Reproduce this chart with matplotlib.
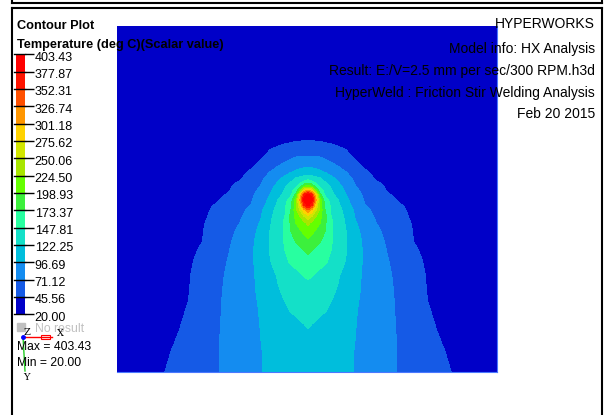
import numpy as np
import matplotlib
matplotlib.use('Agg')
import matplotlib.pyplot as plt
import matplotlib.transforms as mtransforms
from matplotlib.lines import Line2D
from matplotlib.patches import Rectangle

# contour levels (deg C) and HyperView legend colours, low -> high
levels = [20.00, 45.56, 71.12, 96.69, 122.25, 147.81, 173.37, 198.93,
          224.50, 250.06, 275.62, 301.18, 326.74, 352.31, 377.87, 403.43]
band_colors = ['#0000c8', '#155ae6', '#148cf0', '#00bedc', '#14e0c8',
               '#28ffa0', '#3cf03c', '#64ff00', '#a8e600', '#d2e600',
               '#ffd200', '#ff9600', '#ff5000', '#ff1400', '#ff0000']

# half model, symmetric about the weld line
# dist = distance from weld line, rows = position down the plate (picture px)
dist = [0, 4, 8, 12, 17, 23, 30, 38, 47, 57, 68, 80, 93, 106, 120, 134, 148, 191]
rows = [26, 120, 138, 148, 157, 165, 172, 178, 183, 187, 191, 195, 200, 205,
        210, 216, 223, 231, 240, 250, 262, 276, 292, 310, 330, 350, 372]
temp_half = [
    [24, 24, 24, 24, 24, 24, 23, 23, 23, 22, 22, 22, 21, 21, 21, 20, 20, 20],
    [30, 30, 30, 30, 30, 29.5, 29, 28, 27, 26, 25, 24, 23, 22.5, 22, 21.5, 21, 20],
    [42, 42, 42, 42, 41, 41, 40, 38, 36, 34, 32, 30, 28, 26, 24, 23, 22, 20],
    [55.8, 54.6, 53.4, 52.2, 50.7, 48.9, 46.8, 44.5, 41.9, 39, 36, 34, 31, 29, 27, 25, 24, 21],
    [72, 72, 71.5, 71, 67, 62, 56.6, 50, 43.5, 40, 37, 35, 32, 30, 28, 26, 24, 21],
    [89.7, 89, 87.5, 85, 81, 76, 69, 60, 50, 42, 38, 35, 33, 30, 28, 26, 24, 21],
    [109.5, 107, 104, 100.5, 95.5, 88.5, 80.4, 71.5, 60, 48, 41, 37, 34, 31, 29, 27, 25, 22],
    [132.5, 130, 127, 122.5, 113, 102, 91, 79, 66, 54.8, 43, 39, 35, 32, 30, 28, 26, 22],
    [173, 159, 145.5, 136.2, 124.6, 112.4, 98.7, 84.8, 70, 59.4, 47.7, 42, 37, 34, 31, 29, 27, 23],
    [224, 204, 167, 145.5, 133.9, 120.1, 105.2, 89.4, 72.9, 62.3, 51.5, 43, 38, 35, 32, 30, 28, 23],
    [326, 288.4, 211.7, 160.6, 140.1, 124.8, 109.5, 93, 76.6, 64.7, 54.7, 44, 39, 35, 33, 31, 29, 24],
    [390, 365.1, 276, 186.1, 145.3, 129.9, 113.7, 97, 80.2, 66.9, 57.5, 47.3, 41, 37, 34, 32, 30, 25],
    [403.43, 383, 301.5, 211.7, 160.6, 138.5, 122.5, 101.8, 83.9, 68.9, 60.6, 51.6, 42, 38, 35, 33, 31, 26],
    [390, 352.5, 276, 216, 168.3, 143.2, 126.9, 106.9, 88.2, 71.5, 63.5, 55.2, 46.3, 41, 37, 34, 32, 26],
    [326, 292.7, 250.5, 216, 173.5, 145.7, 130.8, 113, 93.3, 76.2, 65.4, 56.9, 47.7, 42, 38, 35, 33, 27],
    [269, 250.5, 224.8, 207.5, 179.8, 148, 134, 117.1, 95.3, 81.1, 68, 58.7, 48.7, 43, 39, 36, 34, 28],
    [229.6, 219.4, 209.2, 199.2, 177.6, 152.1, 136, 119.9, 99, 85.2, 71.5, 61.2, 50.5, 44, 40, 37, 35, 29],
    [211.7, 204.4, 196.4, 186.2, 173.6, 151.5, 136.9, 122.5, 103.1, 88.6, 75.8, 64.3, 53.2, 44.5, 40, 37, 35, 29],
    [195.5, 189.2, 182.9, 176.5, 165.7, 150.4, 137.6, 123.9, 106.5, 91.1, 78.9, 66.9, 55.8, 45, 41, 38, 36, 30],
    [178.5, 174.4, 169.1, 163.4, 156.3, 148, 136.6, 123.8, 107.6, 92.6, 81.3, 69.4, 58.3, 47.3, 42, 39, 37, 31],
    [164.2, 160.9, 157.6, 154.4, 150.3, 143.3, 132.8, 120.7, 106.3, 93, 83, 72, 60.9, 49.8, 43, 40, 38, 32],
    [149.9, 148.2, 145, 141.2, 136.4, 130.7, 124.1, 114.6, 103.1, 92.7, 83.9, 74.3, 63.5, 52.4, 44, 41, 38, 33],
    [140.3, 137.7, 135.1, 132.6, 129.3, 125.5, 120, 111.1, 101.1, 92.3, 84.3, 75.5, 65.5, 55.1, 44.5, 41, 39, 33],
    [130.8, 129.1, 127.4, 125.7, 123.5, 119.6, 113.4, 106.4, 98.5, 91.3, 83.9, 75.8, 66.6, 56.8, 46.3, 42, 39, 34],
    [121.4, 119.3, 117.3, 115.2, 112.6, 109.5, 105.9, 101.8, 97.2, 90.9, 83.9, 76.2, 67.8, 59, 49.6, 43, 40, 34],
    [117, 115.3, 113.5, 111.8, 109.7, 107.1, 104, 100.6, 96.2, 90.5, 83.6, 76.1, 68.5, 61.5, 54.1, 46.6, 41, 35],
    [112, 110.7, 109.3, 108, 106.3, 104.3, 102, 99.3, 96.1, 90, 83.3, 76, 68.7, 62.3, 55.4, 48.5, 44, 36],
]
weld_line = 308

header_lines = ['HYPERWORKS', 'Model info: HX Analysis',
                'Result: E:/V=2.5 mm per sec/300 RPM.h3d',
                'HyperWeld : Friction Stir Welding Analysis', 'Feb 20 2015']
label_lines = ['Contour Plot', 'Temperature (deg C)(Scalar value)']
max_val, min_val = 403.43, 20.00

arial = ['Liberation Sans', 'DejaVu Sans']

W, H = 604, 415
fig = plt.figure(figsize=(W / 100, H / 100), dpi=100)


def fx(x):
    return x / W


def fy(y):
    return 1 - y / H


# contour plot
ax = fig.add_axes([fx(117), fy(372), (497 - 117) / W, (372 - 26) / H])
d = np.array(dist)
half = np.array(temp_half)
xs = np.concatenate([weld_line - d[::-1], weld_line + d[1:]])
Z = np.hstack([half[:, ::-1], half[:, 1:]])
cs = ax.contourf(xs, rows, Z, levels=levels, colors=band_colors, antialiased=False)
ax.set_facecolor(band_colors[0])
ax.set_xlim(117, 497)
ax.set_ylim(372, 26)
ax.set_xticks([])
ax.set_yticks([])
for s in ['top', 'left']:
    ax.spines[s].set_visible(False)
for s in ['right', 'bottom']:
    ax.spines[s].set_color('#4a78ff')
    ax.spines[s].set_linewidth(0.8)

# legend bar
cax = fig.add_axes([fx(16), fy(314.3), 9 / W, 260 / H])
cb = fig.colorbar(cs, cax=cax, ticks=levels)
cb.outline.set_visible(False)
cax.tick_params(axis='y', length=6.5, width=1, color='black', pad=0.5,
                labelsize=9)
cax.set_yticklabels(['%.2f' % v for v in levels], family=arial)
off = mtransforms.ScaledTranslation(0, -2 / 100, fig.dpi_scale_trans)
for lbl in cax.get_yticklabels():
    lbl.set_transform(lbl.get_transform() + off)
for v in levels:
    cax.axhline(v, xmin=-0.2, xmax=1, color='black', lw=1, clip_on=False)

# texts
fig.text(fx(17), fy(29), label_lines[0], family=arial, weight='bold',
         fontsize=9.2, va='baseline')
fig.text(fx(17), fy(47.7), label_lines[1], family=arial, weight='bold',
         fontsize=9.2, va='baseline', zorder=5)
base = [28.4, 52.5, 75, 96.7, 118.3]
for t, b in zip(header_lines, base):
    fig.text(fx(595), fy(b), t, family=arial, fontsize=10, ha='right',
             va='baseline', zorder=5)

fig.add_artist(Rectangle((fx(17), fy(331)), 8 / W, 8 / H, color='#c0c0c0',
                         transform=fig.transFigure))
fig.text(fx(35), fy(331.5), 'No result', family=arial, fontsize=8.8,
         color='#c0c0c0', va='baseline')
fig.text(fx(17), fy(350), 'Max = %.2f' % max_val, family=arial, fontsize=8.7,
         va='baseline', zorder=5)
fig.text(fx(17), fy(366.5), 'Min = %.2f' % min_val, family=arial, fontsize=8.7,
         va='baseline', zorder=5)

# axis triad
fig.add_artist(Line2D([fx(23), fx(52)], [fy(337), fy(337)], color='red', lw=1))
fig.add_artist(Rectangle((fx(41), fy(339)), 9 / W, 4 / H, fill=False,
                         edgecolor='red', lw=0.8, transform=fig.transFigure))
fig.add_artist(Line2D([fx(23), fx(25)], [fy(337), fy(371)], color='#22cc22', lw=1))
fig.add_artist(Line2D([fx(23)], [fy(337)], marker='o', ms=2.5, color='blue'))
fig.text(fx(60), fy(333), 'X', family='DejaVu Serif', fontsize=7, ha='center', va='center')
fig.text(fx(27), fy(332), 'Z', family='DejaVu Serif', fontsize=7, ha='center', va='center')
fig.text(fx(26), fy(377), 'Y', family='DejaVu Serif', fontsize=7, ha='center', va='center')

# window frame lines
frame = dict(color='black', lw=1.5)
fig.add_artist(Line2D([fx(12), fx(602)], [fy(3), fy(3)], **frame))
fig.add_artist(Line2D([fx(12), fx(12)], [fy(0), fy(3)], **frame))
fig.add_artist(Line2D([fx(602), fx(602)], [fy(0), fy(3)], **frame))
fig.add_artist(Line2D([fx(12), fx(602)], [fy(8), fy(8)], **frame))
fig.add_artist(Line2D([fx(12), fx(12)], [fy(8), fy(415)], **frame))
fig.add_artist(Line2D([fx(602), fx(602)], [fy(8), fy(415)], **frame))

fig.savefig('out.png', dpi=100)
